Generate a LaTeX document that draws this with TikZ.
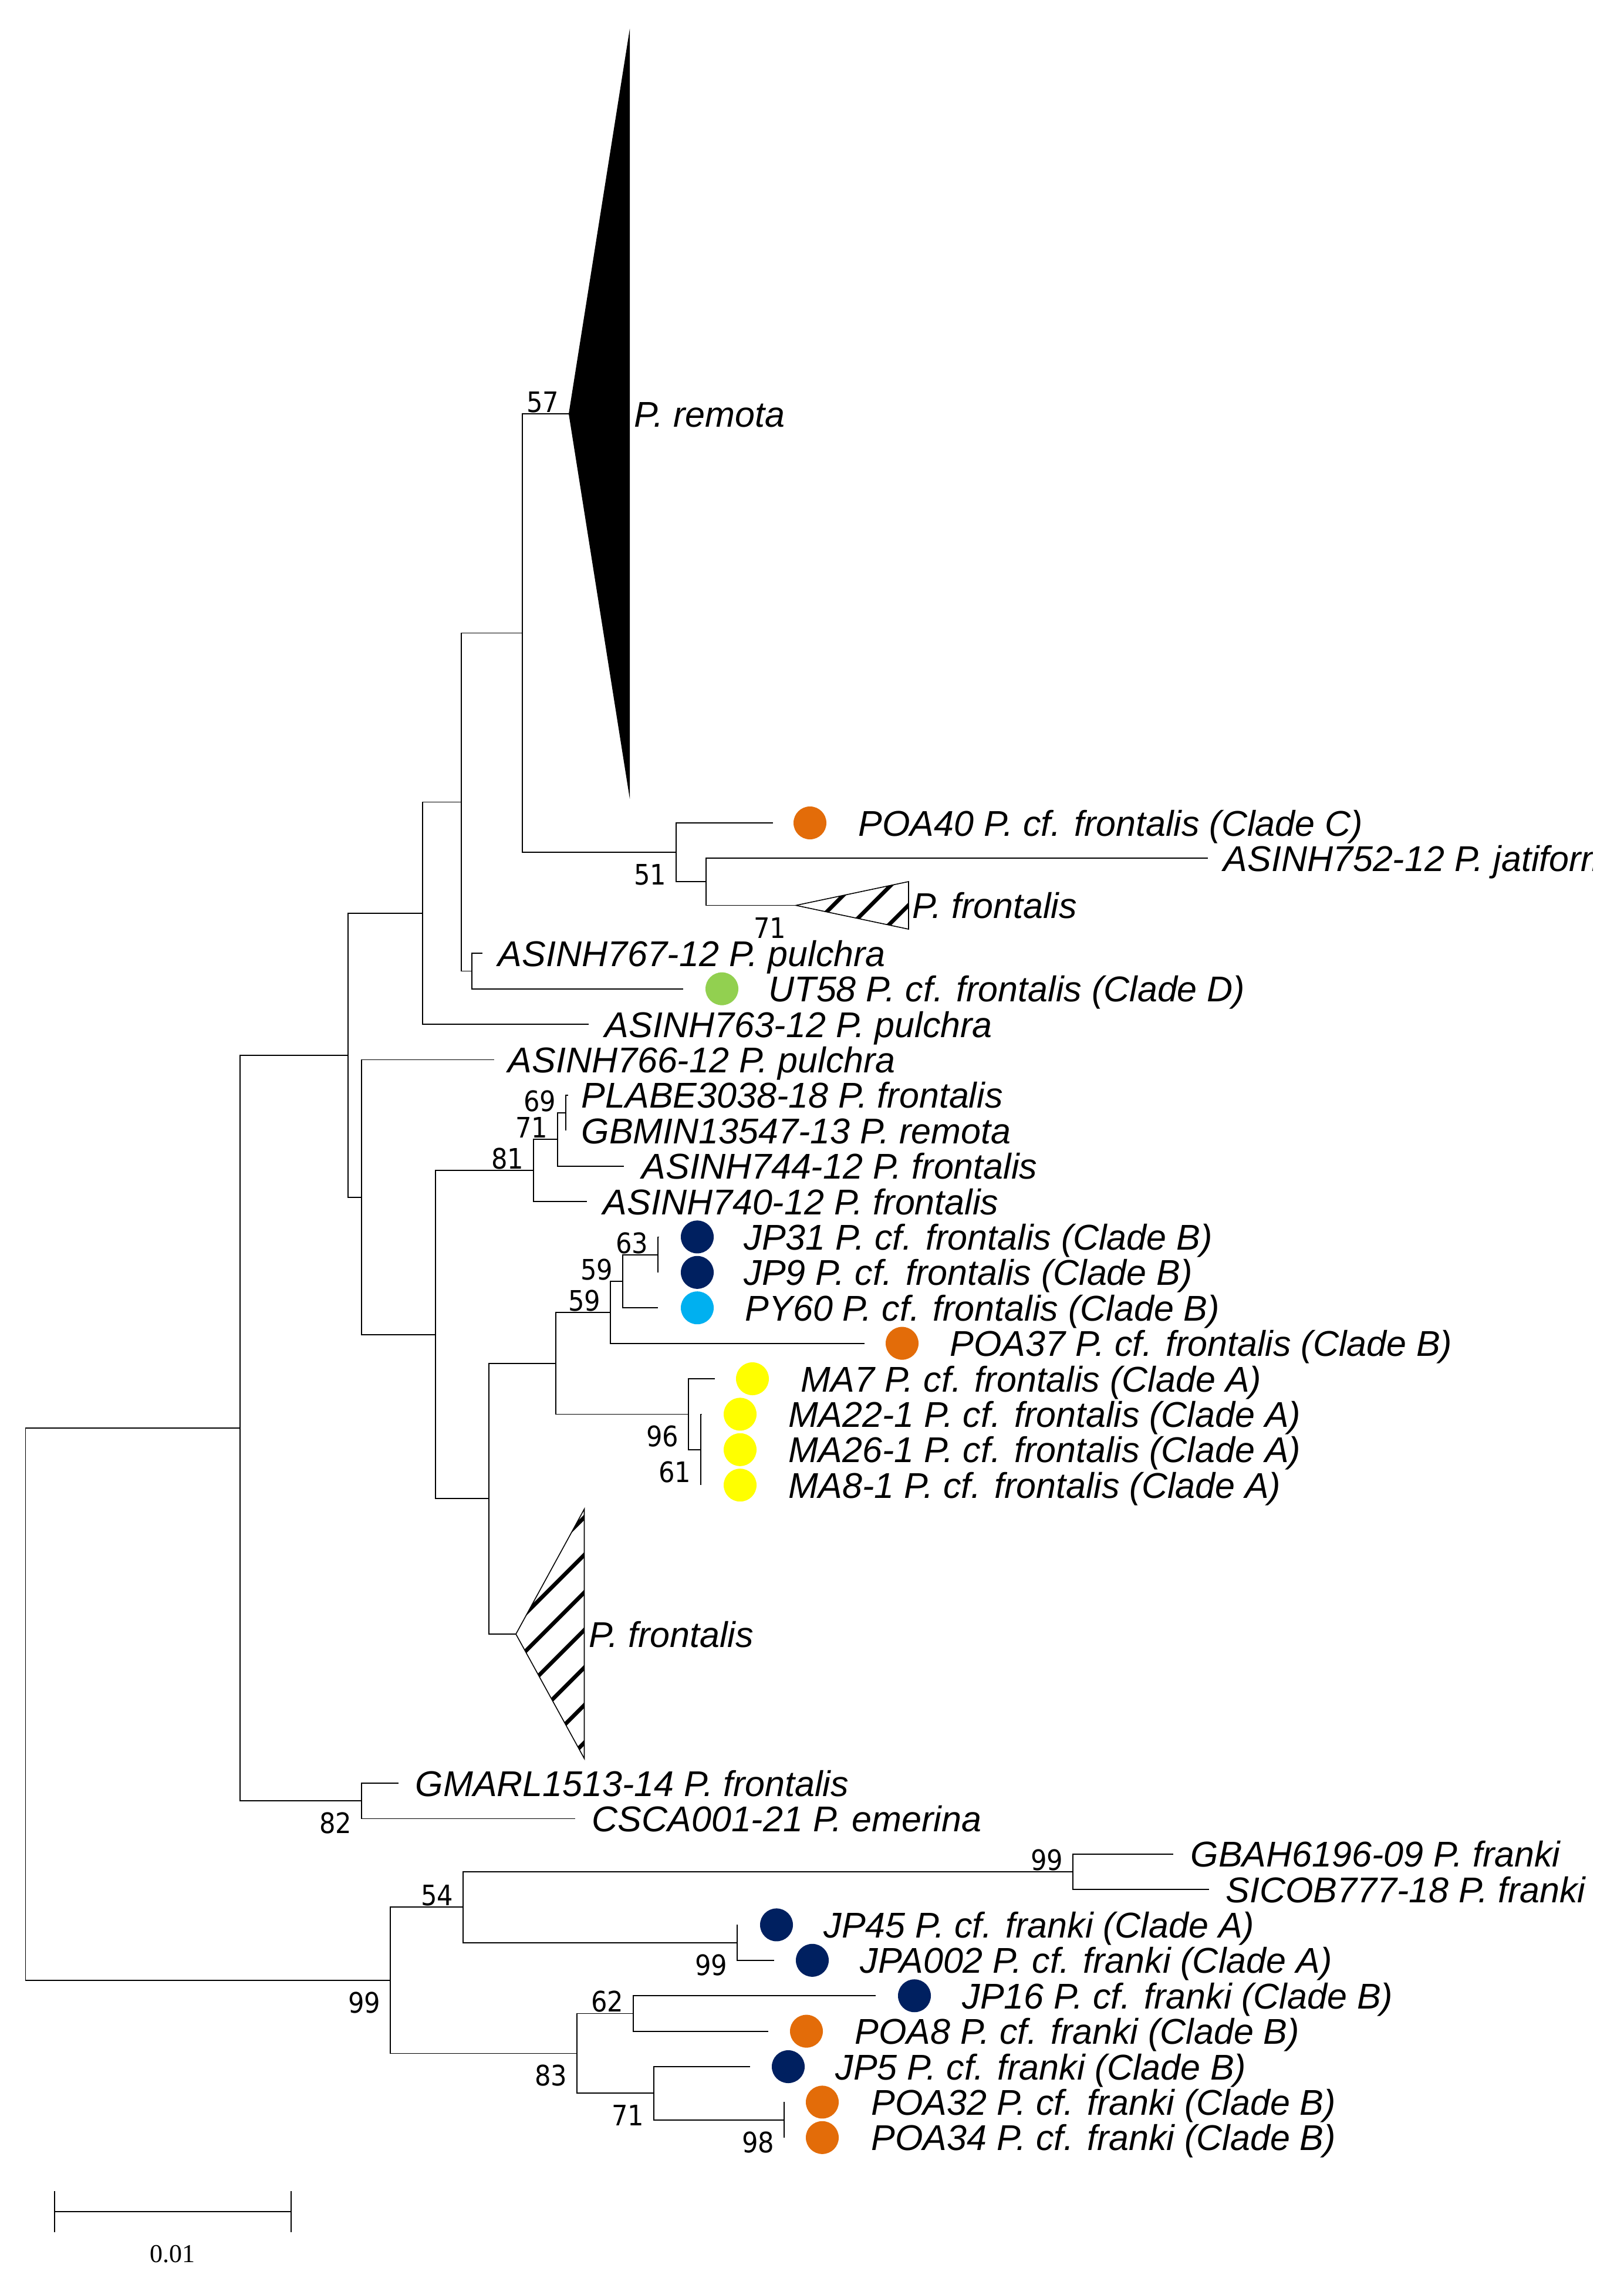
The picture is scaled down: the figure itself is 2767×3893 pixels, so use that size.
\documentclass[tikz,border=0pt]{standalone}
\usepackage{fontspec}
\setmainfont{Liberation Sans}
\newfontfamily\labfont{Liberation Sans}
\newfontfamily\numfont{DejaVu Sans}[FakeStretch=0.9]
\newfontfamily\barfont{Liberation Serif}
\newcommand{\labtxt}{\labfont\itshape\fontsize{17.35}{20}\selectfont}
\newcommand{\bsnum}{\numfont\fontsize{13.66}{16}\selectfont}
\definecolor{corange}{HTML}{E36C09}
\definecolor{cnavy}{HTML}{002060}
\definecolor{cblue}{HTML}{00B0F0}
\definecolor{cyellow}{HTML}{FFFF00}
\definecolor{cgreen}{HTML}{92D050}
\tikzset{
  br/.style={line width=0.5pt, black},
  leaf/.style={anchor=base west, inner sep=0pt, font=\labtxt},
  bsa/.style={anchor=east, inner sep=0pt, font=\bsnum},
  sdot/.style={circle, inner sep=0pt, minimum size=0.56cm, draw=none},
  hatch/.style={line width=1.9pt, black},
  triline/.style={line width=0.45pt, draw=black},
}
\begin{document}
\begin{tikzpicture}[x=0.01cm, y=-0.01cm]
\useasboundingbox (0,0) rectangle (2767,3893);
\fill[white] (0,0) rectangle (2767,3893);

% ---------- internal nodes ----------
\coordinate (root) at (43.5,2903.4);
\coordinate (nA) at (409,2432.9);
\coordinate (nB) at (593,1797.6);
\coordinate (nC) at (720,1555.7);
\coordinate (nD) at (786,1366.5);
\coordinate (nE) at (890,1078.5);
\coordinate (n51) at (1152,1452.1);
\coordinate (n71s) at (1203,1502.25);
\coordinate (nF) at (804,1654.4);
\coordinate (nW) at (616,2039.6);
\coordinate (nZ) at (742,2273.8);
\coordinate (n81) at (909,1994.2);
\coordinate (n71) at (950,1941.3);
\coordinate (n69) at (964,1896.0);
\coordinate (nY) at (833,2553.3);
\coordinate (nX) at (947,2322.6);
\coordinate (n59b) at (1040,2235.75);
\coordinate (n59a) at (1061,2182.9);
\coordinate (n63) at (1121,2137.6);
\coordinate (n96) at (1173,2409.4);
\coordinate (n61) at (1194,2469.8);
\coordinate (n82) at (616,3068.2);
\coordinate (n99r) at (665,3373.8);
\coordinate (n54) at (789,3249.2);
\coordinate (n99g) at (1828,3188.8);
\coordinate (n99j) at (1256,3309.6);
\coordinate (n83) at (983,3498.4);
\coordinate (n62) at (1079,3430.4);
\coordinate (n71b) at (1114,3566.3);
\coordinate (n98) at (1336,3611.6);

% ---------- leaf ends ----------
\coordinate (tRem) at (969,705);
\coordinate (lPOA40) at (1317,1402);
\coordinate (l752) at (2058,1462);
\coordinate (tSm) at (1356,1542.5);
\coordinate (l767) at (822,1624.2);
\coordinate (lUT58) at (1164,1684.6);
\coordinate (l763) at (1003,1745);
\coordinate (l766) at (842,1805.4);
\coordinate (lPLABE) at (968,1865.8);
\coordinate (lGBMIN) at (964,1926.2);
\coordinate (l744) at (1063,1986.6);
\coordinate (l740) at (1000,2047);
\coordinate (lJP31) at (1123,2107.4);
\coordinate (lJP9) at (1121,2167.8);
\coordinate (lPY60) at (1121,2228.2);
\coordinate (lPOA37) at (1473,2288.6);
\coordinate (lMA7) at (1218,2349);
\coordinate (lMA22) at (1196,2409.4);
\coordinate (lMA26) at (1194,2469.8);
\coordinate (lMA8) at (1194,2530.2);
\coordinate (tBig) at (879,2784);
\coordinate (lGMARL) at (679,3038);
\coordinate (lCSCA) at (980,3098.4);
\coordinate (lGBAH) at (1999,3158.6);
\coordinate (lSICOB) at (2060,3219);
\coordinate (lJP45) at (1256,3279.4);
\coordinate (lJPA002) at (1319,3339.8);
\coordinate (lJP16) at (1492,3400.2);
\coordinate (lPOA8) at (1309,3460.6);
\coordinate (lJP5) at (1278,3521);
\coordinate (lPOA32) at (1336,3581.4);
\coordinate (lPOA34) at (1336,3641.8);

% ---------- branches ----------
\draw[br] (root) |- (nA); \draw[br] (root) |- (n99r);
\draw[br] (nA) |- (nB); \draw[br] (nA) |- (n82);
\draw[br] (nB) |- (nC); \draw[br] (nB) |- (nW);
\draw[br] (nC) |- (nD); \draw[br] (nC) |- (l763);
\draw[br] (nD) |- (nE); \draw[br] (nD) |- (nF);
\draw[br] (nE) |- (tRem); \draw[br] (nE) |- (n51);
\draw[br] (n51) |- (lPOA40); \draw[br] (n51) |- (n71s);
\draw[br] (n71s) |- (l752); \draw[br] (n71s) |- (tSm);
\draw[br] (nF) |- (l767); \draw[br] (nF) |- (lUT58);
\draw[br] (nW) |- (l766); \draw[br] (nW) |- (nZ);
\draw[br] (nZ) |- (n81); \draw[br] (nZ) |- (nY);
\draw[br] (n81) |- (n71); \draw[br] (n81) |- (l740);
\draw[br] (n71) |- (n69); \draw[br] (n71) |- (l744);
\draw[br] (n69) |- (lPLABE); \draw[br] (n69) |- (lGBMIN);
\draw[br] (nY) |- (nX); \draw[br] (nY) |- (tBig);
\draw[br] (nX) |- (n59b); \draw[br] (nX) |- (n96);
\draw[br] (n59b) |- (n59a); \draw[br] (n59b) |- (lPOA37);
\draw[br] (n59a) |- (n63); \draw[br] (n59a) |- (lPY60);
\draw[br] (n63) |- (lJP31); \draw[br] (n63) |- (lJP9);
\draw[br] (n96) |- (lMA7); \draw[br] (n96) |- (n61);
\draw[br] (n61) |- (lMA22); \draw[br] (n61) |- (lMA26); \draw[br] (n61) |- (lMA8);
\draw[br] (n82) |- (lGMARL); \draw[br] (n82) |- (lCSCA);
\draw[br] (n99r) |- (n54); \draw[br] (n99r) |- (n83);
\draw[br] (n54) |- (n99g); \draw[br] (n54) |- (n99j);
\draw[br] (n99g) |- (lGBAH); \draw[br] (n99g) |- (lSICOB);
\draw[br] (n99j) |- (lJP45); \draw[br] (n99j) |- (lJPA002);
\draw[br] (n83) |- (n62); \draw[br] (n83) |- (n71b);
\draw[br] (n62) |- (lJP16); \draw[br] (n62) |- (lPOA8);
\draw[br] (n71b) |- (lJP5); \draw[br] (n71b) |- (n98);
\draw[br] (n98) |- (lPOA32); \draw[br] (n98) |- (lPOA34);

% ---------- collapsed clades ----------
\fill[black] (tRem) -- (1073,49) -- (1073,1361) -- cycle;
\fill[white] (tSm) -- (1548,1502) -- (1548,1583) -- cycle;
\begin{scope}
  \clip (tSm) -- (1548,1502) -- (1548,1583) -- cycle;
  \foreach \c in {2962,3026,3090}
    \draw[hatch] (\c-1400,1400) -- (\c-1700,1700);
\end{scope}
\draw[triline] (tSm) -- (1548,1502) -- (1548,1583) -- cycle;
\fill[white] (tBig) -- (995.5,2571) -- (995.5,2996) -- cycle;
\begin{scope}
  \clip (tBig) -- (995.5,2571) -- (995.5,2996) -- cycle;
  \foreach \c in {3580.5,3644.5,3708.5,3772.5,3836.5,3900.5,3964.5}
    \draw[hatch] (\c-2500,2500) -- (\c-3100,3100);
\end{scope}
\draw[triline] (tBig) -- (995.5,2571) -- (995.5,2996) -- cycle;

% ---------- dots ----------
\node[sdot, fill=corange] (dPOA40) at (1380,1402) {};
\node[sdot, fill=cgreen] (dUT58) at (1230,1684.6) {};
\node[sdot, fill=cnavy] (dJP31) at (1188,2107.4) {};
\node[sdot, fill=cnavy] (dJP9) at (1188,2167.8) {};
\node[sdot, fill=cblue] (dPY60) at (1188,2228.2) {};
\node[sdot, fill=corange] (dPOA37) at (1537,2288.6) {};
\node[sdot, fill=cyellow] (dMA7) at (1282,2349) {};
\node[sdot, fill=cyellow] (dMA22) at (1261,2409.4) {};
\node[sdot, fill=cyellow] (dMA26) at (1261,2469.8) {};
\node[sdot, fill=cyellow] (dMA8) at (1261,2530.2) {};
\node[sdot, fill=cnavy] (dJP45) at (1323,3279.4) {};
\node[sdot, fill=cnavy] (dJPA002) at (1384,3339.8) {};
\node[sdot, fill=cnavy] (dJP16) at (1558,3400.2) {};
\node[sdot, fill=corange] (dPOA8) at (1374,3460.6) {};
\node[sdot, fill=cnavy] (dJP5) at (1343,3521) {};
\node[sdot, fill=corange] (dPOA32) at (1401,3581.4) {};
\node[sdot, fill=corange] (dPOA34) at (1401,3641.8) {};

% ---------- leaf labels ----------
\node[leaf] (xRem) at (1080,727) {P. remota};
\node[leaf] (xPOA40) at (1462,1424) {POA40 P. cf. frontalis (Clade C)};
\begin{scope}
  \clip (0,0) rectangle (2713,3893);
  \node[leaf] (x752) at (2084,1484) {ASINH752-12 P. jatiformis};
\end{scope}
\node[leaf] (xSm) at (1554,1564.5) {P. frontalis};
\node[leaf] (x767) at (848,1646.2) {ASINH767-12 P. pulchra};
\node[leaf] (xUT58) at (1309,1706.6) {UT58 P. cf. frontalis (Clade D)};
\node[leaf] (x763) at (1030,1767) {ASINH763-12 P. pulchra};
\node[leaf] (x766) at (865,1827.4) {ASINH766-12 P. pulchra};
\node[leaf] (xPLABE) at (990,1887.8) {PLABE3038-18 P. frontalis};
\node[leaf] (xGBMIN) at (990,1948.2) {GBMIN13547-13 P. remota};
\node[leaf] (x744) at (1093,2008.6) {ASINH744-12 P. frontalis};
\node[leaf] (x740) at (1027,2069) {ASINH740-12 P. frontalis};
\node[leaf] (xJP31) at (1267,2129.4) {JP31 P. cf. frontalis (Clade B)};
\node[leaf] (xJP9) at (1267,2189.8) {JP9 P. cf. frontalis (Clade B)};
\node[leaf] (xPY60) at (1269,2250.2) {PY60 P. cf. frontalis (Clade B)};
\node[leaf] (xPOA37) at (1618,2310.6) {POA37 P. cf. frontalis (Clade B)};
\node[leaf] (xMA7) at (1364,2371) {MA7 P. cf. frontalis (Clade A)};
\node[leaf] (xMA22) at (1343,2431.4) {MA22-1 P. cf. frontalis (Clade A)};
\node[leaf] (xMA26) at (1343,2491.8) {MA26-1 P. cf. frontalis (Clade A)};
\node[leaf] (xMA8) at (1343,2552.2) {MA8-1 P. cf. frontalis (Clade A)};
\node[leaf] (xBig) at (1003,2806) {P. frontalis};
\node[leaf] (xGMARL) at (707,3060) {GMARL1513-14 P. frontalis};
\node[leaf] (xCSCA) at (1008,3120.4) {CSCA001-21 P. emerina};
\node[leaf] (xGBAH) at (2028,3180.6) {GBAH6196-09 P. franki};
\node[leaf] (xSICOB) at (2088,3241) {SICOB777-18 P. franki};
\node[leaf] (xJP45) at (1403,3301.4) {JP45 P. cf. franki (Clade A)};
\node[leaf] (xJPA002) at (1465,3361.8) {JPA002 P. cf. franki (Clade A)};
\node[leaf] (xJP16) at (1639,3422.2) {JP16 P. cf. franki (Clade B)};
\node[leaf] (xPOA8) at (1456,3482.6) {POA8 P. cf. franki (Clade B)};
\node[leaf] (xJP5) at (1423,3543) {JP5 P. cf. franki (Clade B)};
\node[leaf] (xPOA32) at (1484,3603.4) {POA32 P. cf. franki (Clade B)};
\node[leaf] (xPOA34) at (1484,3663.8) {POA34 P. cf. franki (Clade B)};

% ---------- bootstrap values ----------
\node[bsa] (b57) at ([shift={(-16,-20)}]tRem) {57};
\node[bsa] (b51) at ([shift={(-16,38)}]n51) {51};
\node[bsa] (b71s) at ([shift={(-16,38)}]tSm) {71};
\node[bsa] (b69) at ([shift={(-16,-20)}]n69) {69};
\node[bsa] (b71) at ([shift={(-16,-20)}]n71) {71};
\node[bsa] (b81) at ([shift={(-16,-20)}]n81) {81};
\node[bsa] (b63) at ([shift={(-16,-20)}]n63) {63};
\node[bsa] (b59a) at ([shift={(-16,-20)}]n59a) {59};
\node[bsa] (b59b) at ([shift={(-16,-20)}]n59b) {59};
\node[bsa] (b96) at ([shift={(-16,38)}]n96) {96};
\node[bsa] (b61) at ([shift={(-16,38)}]n61) {61};
\node[bsa] (b82) at ([shift={(-16,38)}]n82) {82};
\node[bsa] (b99g) at ([shift={(-16,-20)}]n99g) {99};
\node[bsa] (b54) at ([shift={(-16,-20)}]n54) {54};
\node[bsa] (b99j) at ([shift={(-16,38)}]n99j) {99};
\node[bsa] (b99r) at ([shift={(-16,38)}]n99r) {99};
\node[bsa] (b62) at ([shift={(-16,-20)}]n62) {62};
\node[bsa] (b83) at ([shift={(-16,38)}]n83) {83};
\node[bsa] (b71b) at ([shift={(-16,38)}]n71b) {71};
\node[bsa] (b98) at ([shift={(-16,38)}]n98) {98};

% ---------- scale bar ----------
\coordinate (sbL) at (93,3768);
\coordinate (sbR) at (496,3768);
\draw[line width=0.7pt] (sbL) -- (sbR);
\draw[line width=0.45pt] ([yshift=-10]sbL) -- ([yshift=10]sbL);
\draw[line width=0.45pt] ([yshift=-10]sbR) -- ([yshift=10]sbR);
\node[inner sep=0pt, font=\barfont\fontsize{12.5}{14}\selectfont] (sbT) at (294,3840) {0.01};
\end{tikzpicture}
\end{document}
